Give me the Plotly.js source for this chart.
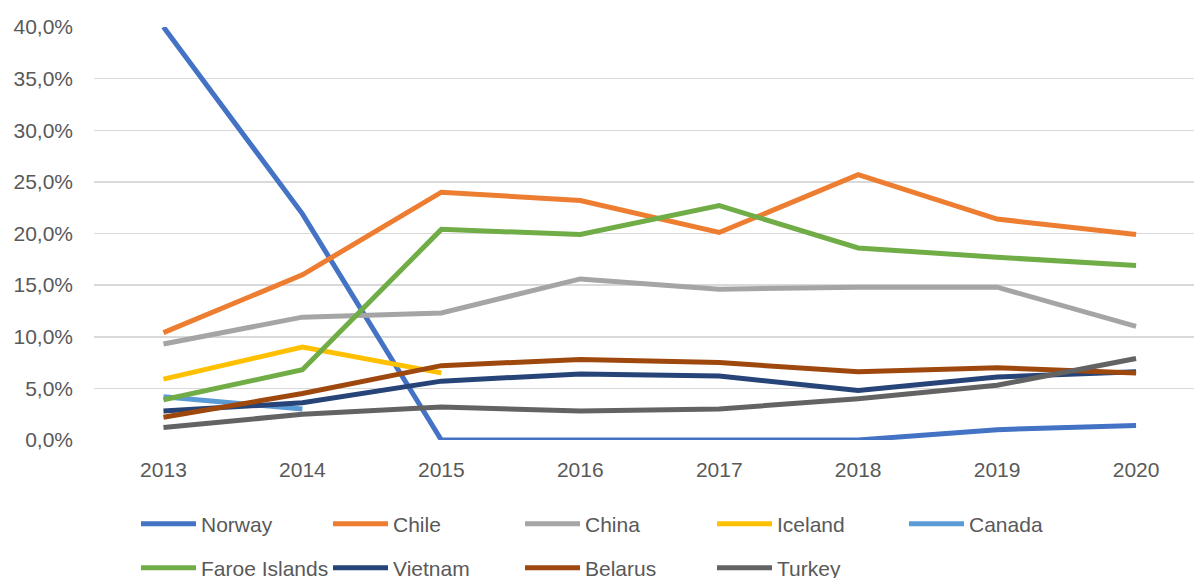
<!DOCTYPE html>
<html>
<head>
<meta charset="utf-8">
<script src="https://cdn.plot.ly/plotly-3.0.1.min.js"></script>
<style>html,body{margin:0;padding:0;background:#fff;}#chart{width:1194px;height:578px;}</style>
</head>
<body>
<div id="chart"></div>
<script>
const years = ["2013","2014","2015","2016","2017","2018","2019","2020"];
const seriesNames = ["Norway","Chile","China","Iceland","Canada","Faroe Islands","Vietnam","Belarus","Turkey"];
const norway  = [40.0, 21.9, 0, 0, 0, 0, 1.0, 1.4];
const chile   = [10.4, 16.0, 24.0, 23.2, 20.1, 25.7, 21.4, 19.9];
const china   = [9.3, 11.9, 12.3, 15.6, 14.6, 14.8, 14.8, 11.0];
const iceland = [5.9, 9.0, 6.5, null, null, null, null, null];
const canada  = [4.2, 3.0, null, null, null, null, null, null];
const faroe   = [3.9, 6.8, 20.4, 19.9, 22.7, 18.6, 17.7, 16.9];
const vietnam = [2.8, 3.6, 5.7, 6.4, 6.2, 4.8, 6.1, 6.6];
const belarus = [2.2, 4.5, 7.2, 7.8, 7.5, 6.6, 7.0, 6.5];
const turkey  = [1.2, 2.5, 3.2, 2.8, 3.0, 4.0, 5.3, 7.9];
const yTicks  = [0, 5, 10, 15, 20, 25, 30, 35, 40];
const yTickLabels = ["0,0%","5,0%","10,0%","15,0%","20,0%","25,0%","30,0%","35,0%","40,0%"];

const values = [norway, chile, china, iceland, canada, faroe, vietnam, belarus, turkey];
const colors = ["#4472C4","#ED7D31","#A5A5A5","#FFC000","#5B9BD5","#70AD47","#264478","#9E480E","#636363"];

const traces = values.map((v, i) => ({
  type: "scatter",
  mode: "lines",
  x: years,
  y: v,
  name: seriesNames[i],
  line: {color: colors[i], width: 5},
  legend: i < 5 ? "legend" : "legend2",
  hoverinfo: "skip"
}));

const font = {family: "Liberation Sans, Arial, sans-serif", size: 21, color: "#595959"};
const legendBase = {
  orientation: "h",
  xref: "container", yref: "container",
  xanchor: "left", yanchor: "middle",
  x: 136/1194,
  entrywidth: 122, entrywidthmode: "pixels",
  itemwidth: 55,
  font: font,
  bgcolor: "rgba(0,0,0,0)",
  traceorder: "normal"
};

const layout = {
  width: 1194, height: 578,
  margin: {l: 94, r: 0, t: 27, b: 138, pad: 0},
  paper_bgcolor: "#fff", plot_bgcolor: "#fff",
  font: font,
  showlegend: true,
  xaxis: {
    type: "category",
    range: [-0.5, 7.417],
    showgrid: false, zeroline: false, showline: false,
    ticks: "", ticklabelstandoff: 15,
    tickfont: font, fixedrange: true
  },
  yaxis: {
    range: [0, 40],
    tickmode: "array",
    tickvals: yTicks,
    ticktext: yTickLabels,
    showgrid: true, gridcolor: "#D9D9D9", gridwidth: 1.5,
    zeroline: false, showline: false,
    ticks: "", ticklabelstandoff: 20,
    tickfont: font, fixedrange: true
  },
  legend: Object.assign({}, legendBase, {y: 1 - 524/578}),
  legend2: Object.assign({}, legendBase, {y: 1 - 568/578})
};

Plotly.newPlot("chart", traces, layout, {staticPlot: true, displayModeBar: false});
</script>
</body>
</html>
